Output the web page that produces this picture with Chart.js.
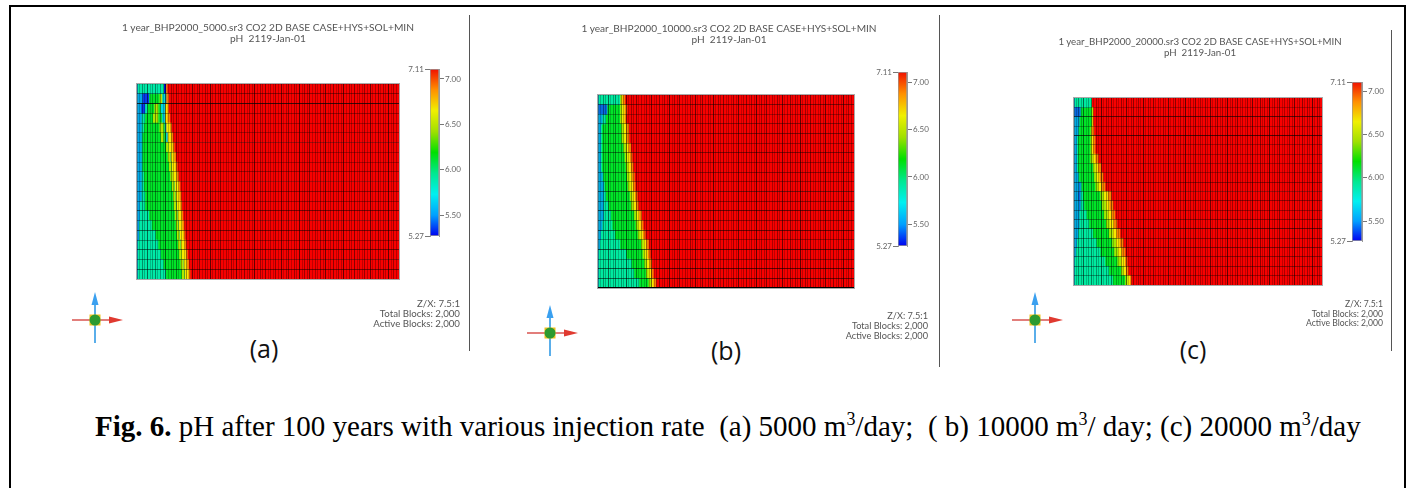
<!DOCTYPE html>
<html>
<head>
<meta charset="utf-8">
<title>Fig. 6</title>
<script src="https://cdn.jsdelivr.net/npm/chart.js@4/dist/chart.umd.min.js"></script>
<style>
html, body { margin: 0; padding: 0; background: #fff; overflow: hidden; }
#page { position: relative; width: 1414px; height: 488px; overflow: hidden; }
canvas, svg { position: absolute; }
.grid { filter: blur(0.6px); outline: 1px solid #aaa; }
.bar { filter: blur(0.3px); }
.line { position: absolute; width: 1px; background: #555; }
.frame { position: absolute; background: #000; }
.title, .info { position: absolute; font-family: Lato, sans-serif; color: #555; white-space: pre; filter: blur(0.25px); }
.title { text-align: center; line-height: 10.5px; transform: translateX(-50%); }
.info { text-align: right; line-height: 10px; transform: translateX(-100%); }
.tag { position: absolute; font-family: "Open Sans", sans-serif; font-size: 25px; color: #111; transform: translateX(-50%); }
#caption { position: absolute; left: 95px; top: 410px; font-family: "Liberation Serif", serif; font-size: 29px; color: #000; white-space: pre; }
#caption sup { font-size: 18px; line-height: 0; }
</style>
</head>
<body>
<div id="page"></div>
<script>
const rows = ['1','2','3','4','5','6','7','8','9','10','11','12','13','14','15','16','17','18','19','20'];

// width of each colour run per grid row, in grid columns (100 columns across)
const aEdge  = [0, 2, 1.5, 1.5, 1.5, 1.5, 1.5, 1.5, 1.5, 1.5, 1.5, 1.5, 1, 1, 0.5, 0.5, 0, 0, 0, 0];
const aDeep  = [0, 2.5, 1.5, 0, 0, 0, 0, 0, 0, 0, 0, 0, 0, 0, 0, 0, 0, 0, 0, 0];
const aTeal  = [10, 0, 1, 1.5, 1, 0.5, 0.5, 0.5, 0.5, 1, 1, 1.5, 2, 3.5, 5, 6.5, 8, 9, 10, 11];
const aGreen = [0, 4, 2.5, 3, 6, 7, 9, 9.6, 10.1, 10.1, 10.7, 10.6, 10.9, 9.8, 9.2, 8.1, 7.5, 7, 6.5, 6];
const aLime  = [0, 1, 1.5, 2, 1.5, 1, 1, 1, 1, 1, 1, 1, 1, 1, 1, 1, 1, 1, 1, 1];
const aInner = [0, 0, 1, 1.5, 0.5, 1, 0, 0, 0, 0, 0, 0, 0, 0, 0, 0, 0, 0, 0, 0];
const aCyan  = [0, 1.5, 1.5, 1, 0.5, 0.5, 0, 0, 0, 0, 0, 0, 0, 0, 0, 0, 0, 0, 0, 0];
const aCap   = [1, 0, 0, 0, 0, 0, 0, 0, 0, 0, 0, 0, 0, 0, 0, 0, 0, 0, 0, 0];
const aYellow = [0, 0, 1, 1, 1.5, 1.5, 1.5, 1.5, 1.5, 1.5, 1.5, 1.5, 1.5, 1.5, 1.5, 1.5, 1.5, 1.5, 1.5, 1.5];
const aOrange = [0.5, 1, 0.5, 1, 0.7, 0.7, 0.7, 0.7, 0.7, 0.7, 0.7, 0.7, 0.7, 0.7, 0.7, 0.7, 0.7, 0.7, 0.7, 0.7];
const aRed   = [88.5, 88, 88, 87.5, 86.8, 86.3, 85.8, 85.2, 84.7, 84.2, 83.6, 83.2, 82.9, 82.5, 82.1, 81.7, 81.3, 80.8, 80.3, 79.8];

const bEdge  = [0, 0, 1.5, 1, 1, 1, 1, 1, 1.5, 2, 2, 2, 2, 1.5, 1, 0.5, 0, 0, 0, 0];
const bDeep  = [0, 3.5, 0, 0, 0, 0, 0, 0, 0, 0, 0, 0, 0, 0, 0, 0, 0, 0, 0, 0];
const bTeal  = [8.5, 0, 1.5, 0.5, 0.5, 0.5, 0.5, 0.5, 0.5, 0.5, 1, 2, 3, 4, 5.5, 8, 11, 13, 14, 16];
const bGreen = [0, 5, 5.5, 7.5, 7.6, 8.3, 8.8, 9.2, 9.2, 9, 9.3, 8.7, 9, 9.1, 8.9, 8.2, 6.3, 5, 4.6, 3.6];
const bLime  = [0.5, 0.8, 0.8, 1, 1, 1, 1, 1, 1, 1, 1, 1, 1, 1, 1, 1, 1, 1, 1, 1];
const bYellow = [0.5, 1, 1, 1, 1, 1, 1, 1, 1, 1, 1, 1, 1, 1, 1, 1, 1, 1, 1, 1];
const bOrange = [1, 1, 0.7, 1, 1, 1, 1, 1, 1, 1, 1, 1, 1, 1, 1, 1, 1, 1, 1, 1];
const bRed   = [89.5, 88.7, 89, 88, 87.9, 87.2, 86.7, 86.3, 85.8, 85.5, 84.7, 84.3, 83, 82.4, 81.6, 80.3, 79.7, 79, 78.4, 77.4];

const cEdge  = [0, 0, 2, 1.5, 1, 1, 1, 1, 1.5, 2, 1.5, 2, 2, 2, 1.5, 1, 0.5, 0, 0, 0];
const cDeep  = [0, 2.5, 0, 0, 0, 0, 0, 0, 0, 0.5, 1, 0.5, 0, 0, 0, 0, 0, 0, 0, 0];
const cTeal  = [7, 0, 0, 0.5, 0.5, 0.5, 0.5, 0.5, 0.5, 0.5, 1, 1.5, 3, 4, 6, 8, 10, 12.5, 14, 15.5];
const cGreen = [0, 4.5, 5, 4.5, 5, 5, 5, 6, 6, 5.5, 7, 7.2, 7, 6.8, 6.5, 6.3, 5.6, 4.9, 4.8, 5];
const cLime  = [0, 0.5, 0.3, 0.5, 0.5, 0.5, 1, 1, 1, 1.2, 1.5, 1.5, 1.5, 1.5, 1.5, 1.5, 1.5, 1.5, 1, 1];
const cYellow = [0, 0, 0, 0, 0.5, 0.5, 1, 1, 1.2, 1.3, 1.5, 1.5, 1.5, 1.5, 1.5, 1.5, 1.5, 1.5, 1, 1];
const cOrange = [0, 0.2, 0.4, 1, 1, 1, 1.2, 1.4, 1.5, 1.5, 1.5, 1.5, 1.5, 1.5, 1.5, 1.5, 1.5, 1, 1, 0.5];
const cRed   = [93, 92.3, 92.3, 92, 91.5, 91.5, 90.3, 89.1, 88.3, 87.5, 85, 84.3, 83.5, 82.7, 81.5, 80.2, 79.4, 78.6, 78.2, 77];

// how dark each horizontal grid line looks, top to bottom
const aRowLines = [0.1, 0.4, 0.75, 0.35, 0.3, 0.3, 0.35, 0.3, 0.3, 0.35, 0.3, 0.4, 0.35, 0.5, 0.35, 0.5, 0.35, 0.5, 0.4, 0.5, 0.2];
const bRowLines = [0.1, 0.45, 0.3, 0.4, 0.45, 0.35, 0.45, 0.35, 0.4, 0.35, 0.5, 0.4, 0.55, 0.4, 0.55, 0.35, 0.6, 0.4, 0.6, 0.55, 0.2];
const cRowLines = [0.1, 0.25, 0.6, 0.3, 0.65, 0.3, 0.3, 0.3, 0.3, 0.4, 0.35, 0.4, 0.35, 0.4, 0.55, 0.4, 0.45, 0.4, 0.4, 0.35, 0.2];
// how dark the vertical grid lines look, repeated across the columns
const columnLines = [0.3, 0.22, 0.38, 0.25, 0.55, 0.2, 0.3, 0.42, 0.22, 0.35, 0.25, 0.6, 0.22, 0.35, 0.28, 0.45, 0.22];

const phTicks = [5.5, 6, 6.5, 7];
const phEnds = [5.27, 7.11];
const barStops = ['#0000f0', '#00a0ff', '#00f0f0', '#00e890', '#00e000', '#a0e000', '#f0f000', '#ff9000', '#f01000'];

const page = document.getElementById('page');

const addCanvas = (left, top, width, height, cls) => {
    const canvas = document.createElement('canvas');
    canvas.width = width;
    canvas.height = height;
    canvas.className = cls;
    canvas.style.left = left + 'px';
    canvas.style.top = top + 'px';
    page.appendChild(canvas);
    return canvas;
};

const addText = (cls, left, top, text, size, lineHeight) => {
    const div = document.createElement('div');
    div.className = cls;
    div.style.left = left + 'px';
    div.style.top = top + 'px';
    if (size) div.style.fontSize = size + 'px';
    if (lineHeight) div.style.lineHeight = lineHeight + 'px';
    div.textContent = text;
    page.appendChild(div);
};

const drawGrid = (box, runs, colors, rowLines) => {
    const canvas = addCanvas(box.x, box.y, box.w, box.h, 'grid');
    new Chart(canvas, {
        type: 'bar',
        data: {
            labels: rows,
            datasets: runs.map((run, i) => ({
                data: run,
                backgroundColor: colors[i],
                barPercentage: 1,
                categoryPercentage: 1
            }))
        },
        options: {
            indexAxis: 'y',
            responsive: false,
            animation: false,
            layout: { padding: 0 },
            plugins: { legend: { display: false }, tooltip: { enabled: false } },
            scales: {
                x: {
                    stacked: true,
                    min: 0,
                    max: 100,
                    ticks: { display: false, stepSize: 1, autoSkip: false },
                    border: { display: false },
                    grid: {
                        z: 1,
                        drawTicks: false,
                        lineWidth: 1,
                        color: ctx => `rgba(0,0,0,${columnLines[ctx.index % columnLines.length]})`
                    }
                },
                y: {
                    stacked: true,
                    ticks: { display: false, autoSkip: false },
                    border: { display: false },
                    grid: {
                        z: 1,
                        drawTicks: false,
                        lineWidth: 1,
                        color: ctx => `rgba(0,0,0,${rowLines[ctx.index]})`
                    }
                }
            }
        }
    });
};

const drawColorBar = (box) => {
    const canvas = addCanvas(box.x - 30, box.y - 8, box.w + 60, box.h + 16, 'bar');
    const fitSide = scale => { scale.width = 30; };
    const tickFont = { family: 'Lato', size: 8 };
    new Chart(canvas, {
        type: 'bar',
        data: {
            labels: ['pH'],
            datasets: [{
                data: [phEnds],
                barPercentage: 1,
                categoryPercentage: 1,
                borderColor: '#999',
                borderWidth: 1,
                borderSkipped: false,
                backgroundColor: ctx => {
                    const area = ctx.chart.chartArea;
                    if (!area) return '#f00';
                    const fill = ctx.chart.ctx.createLinearGradient(0, area.bottom, 0, area.top);
                    barStops.forEach((c, i) => fill.addColorStop(i / (barStops.length - 1), c));
                    return fill;
                }
            }]
        },
        options: {
            responsive: false,
            animation: false,
            layout: { padding: { top: 8, bottom: 8 } },
            plugins: { legend: { display: false }, tooltip: { enabled: false } },
            scales: {
                x: { display: false },
                y: {
                    position: 'right',
                    min: phEnds[0],
                    max: phEnds[1],
                    afterFit: fitSide,
                    afterBuildTicks: scale => { scale.ticks = phTicks.map(v => ({ value: v })); },
                    ticks: { color: '#666', font: tickFont, padding: 1, callback: v => v.toFixed(2) },
                    border: { color: '#999' },
                    grid: { drawOnChartArea: false, tickLength: 5, color: '#777' }
                },
                ends: {
                    position: 'left',
                    min: phEnds[0],
                    max: phEnds[1],
                    afterFit: fitSide,
                    afterBuildTicks: scale => { scale.ticks = phEnds.map(v => ({ value: v })); },
                    ticks: { color: '#666', font: tickFont, padding: 1, callback: v => v.toFixed(2) },
                    border: { color: '#999' },
                    grid: { drawOnChartArea: false, tickLength: 5, color: '#777' }
                }
            }
        }
    });
};

const drawAxes = (cx, cy) => {
    page.insertAdjacentHTML('beforeend', `
    <svg style="left:${cx - 30}px;top:${cy - 30}px;filter:blur(0.4px)" width="60" height="60" viewBox="-30 -30 60 60">
      <line x1="-23" y1="0" x2="16" y2="0" stroke="#d9534f" stroke-width="1.6"/>
      <polygon points="14,-3.5 28,0 14,3.5" fill="#e03a30"/>
      <line x1="0" y1="23" x2="0" y2="-18" stroke="#5aaeea" stroke-width="2"/>
      <polygon points="-3.5,-15 0,-28 3.5,-15" fill="#3aa0f0"/>
      <rect x="-5.5" y="-5.5" width="11" height="11" fill="#f0c020"/>
      <circle r="5.5" fill="#2c9a30"/>
    </svg>`);
};

const addFrame = (left, top, width, height) => {
    const div = document.createElement('div');
    div.className = 'frame';
    div.style.cssText = `left:${left}px;top:${top}px;width:${width}px;height:${height}px`;
    page.appendChild(div);
};

const addRule = (left, top, height) => {
    const div = document.createElement('div');
    div.className = 'line';
    div.style.cssText = `left:${left}px;top:${top}px;height:${height}px`;
    page.appendChild(div);
};

const colorsA = ['#00a8e8', '#0838f0', '#00eaa8', '#00e428', '#b0e800', '#10e030', '#00d8e0', '#0810e0', '#f8e800', '#f88000', '#f80000'];
const colorsBC = ['#00a8e0', '#0868e0', '#00eaa0', '#00e428', '#a0e800', '#f8e800', '#f88000', '#f80000'];

drawGrid({ x: 137, y: 84, w: 262, h: 195 }, [aEdge, aDeep, aTeal, aGreen, aLime, aInner, aCyan, aCap, aYellow, aOrange, aRed], colorsA, aRowLines);
drawGrid({ x: 598, y: 95, w: 256, h: 193 }, [bEdge, bDeep, bTeal, bGreen, bLime, bYellow, bOrange, bRed], colorsBC, bRowLines);
drawGrid({ x: 1074, y: 98, w: 248, h: 187 }, [cEdge, cDeep, cTeal, cGreen, cLime, cYellow, cOrange, cRed], colorsBC, cRowLines);

drawColorBar({ x: 430, y: 69, w: 9, h: 167 });
drawColorBar({ x: 898, y: 72, w: 9, h: 174 });
drawColorBar({ x: 1352, y: 82, w: 10, h: 159 });

drawAxes(95, 320);
drawAxes(550, 333);
drawAxes(1035, 320);

addText('title', 268, 22, '1 year_BHP2000_5000.sr3 CO2 2D BASE CASE+HYS+SOL+MIN\npH  2119-Jan-01', 10.2);
addText('title', 729, 23, '1 year_BHP2000_10000.sr3 CO2 2D BASE CASE+HYS+SOL+MIN\npH  2119-Jan-01', 10.1);
addText('title', 1200, 36, '1 year_BHP2000_20000.sr3 CO2 2D BASE CASE+HYS+SOL+MIN\npH  2119-Jan-01', 9.7);

addText('info', 460, 298, 'Z/X: 7.5:1\nTotal Blocks: 2,000\nActive Blocks: 2,000', 9.7, 10);
addText('info', 928, 311, 'Z/X: 7.5:1\nTotal Blocks: 2,000\nActive Blocks: 2,000', 9.2, 10);
addText('info', 1383, 300, 'Z/X: 7.5:1\nTotal Blocks: 2,000\nActive Blocks: 2,000', 8.6, 9.5);

addText('tag', 264, 331, '(a)');
addText('tag', 726, 333, '(b)');
addText('tag', 1193, 332, '(c)');

addRule(469, 15, 336);
addRule(939, 15, 352);
addRule(1391, 30, 321);

addFrame(9, 5, 1396, 2);
addFrame(9, 5, 2, 483);
addFrame(1404, 5, 2, 483);

page.insertAdjacentHTML('beforeend', '<div id="caption"><b>Fig. 6.</b> pH after 100 years with various injection rate  (a) 5000 m<sup>3</sup>/day;  ( b) 10000 m<sup>3</sup>/ day; (c) 20000 m<sup>3</sup>/day</div>');
</script>
</body>
</html>
